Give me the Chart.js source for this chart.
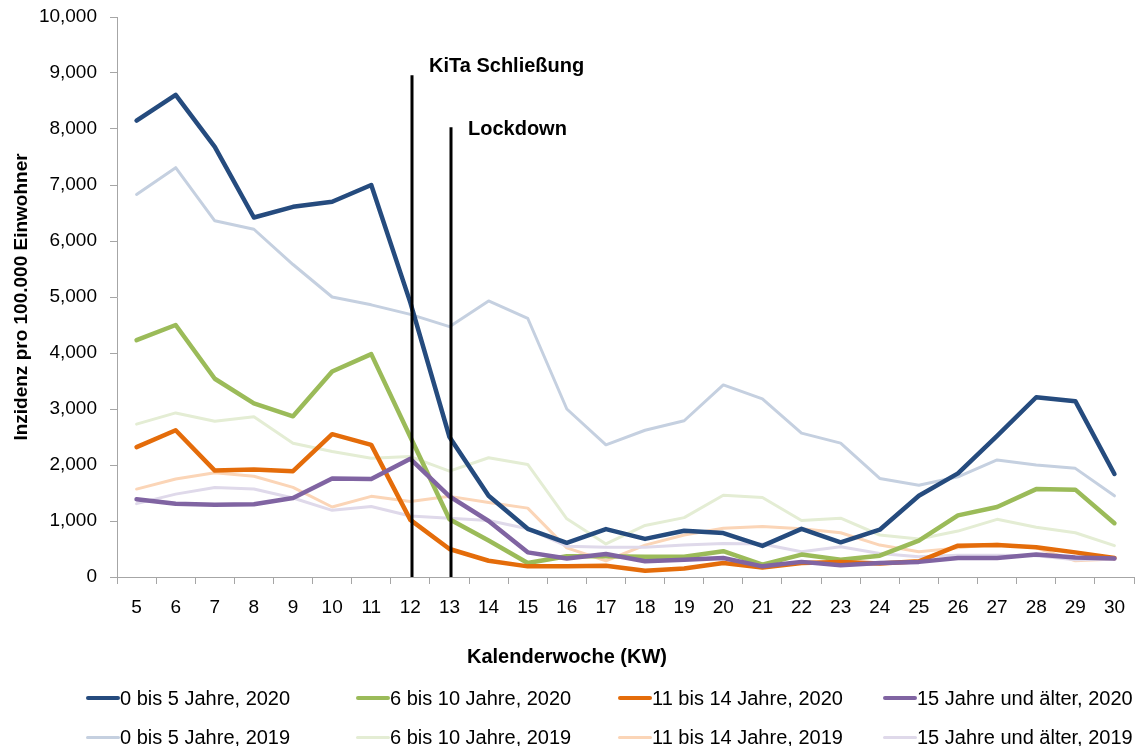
<!DOCTYPE html>
<html><head><meta charset="utf-8">
<script src="https://cdn.jsdelivr.net/npm/chart.js@4.4.1/dist/chart.umd.min.js"></script>
<style>
html,body{margin:0;padding:0;background:#fff;}
#wrap{position:relative;width:1147px;height:746px;overflow:hidden;}
#legend .item{position:absolute;display:flex;align-items:center;font-family:'Liberation Sans',Arial,sans-serif;font-size:20px;color:#000;white-space:nowrap;line-height:24px;height:24px;}
#legend .swatch{width:34px;display:inline-block;border-radius:2px;}
</style></head>
<body><div id="wrap"><canvas id="c" width="1147" height="746"></canvas><div id="legend"></div></div>
<script>
// ---- data ----
const weeks = [5,6,7,8,9,10,11,12,13,14,15,16,17,18,19,20,21,22,23,24,25,26,27,28,29,30];
const yTicks = [0,1000,2000,3000,4000,5000,6000,7000,8000,9000,10000];

const age0to5_2020   = [8150,8610,7680,6420,6610,6700,7000,4900,2500,1450,860,610,855,680,825,785,555,860,620,845,1450,1850,2520,3210,3140,1840];
const age6to10_2020  = [4230,4500,3540,3100,2870,3670,3980,2500,1030,650,250,370,370,360,360,460,220,400,310,380,650,1100,1250,1570,1560,960];
const age11to14_2020 = [2320,2620,1900,1920,1890,2550,2360,1020,500,290,190,190,200,110,150,250,170,250,270,240,280,560,570,530,440,340];
const age15plus_2020 = [1390,1310,1290,1300,1410,1760,1750,2110,1440,1000,440,330,410,280,310,340,190,270,210,250,270,340,340,400,350,330];

const age0to5_2019   = [6830,7310,6360,6210,5580,5000,4860,4690,4470,4930,4620,3000,2360,2620,2790,3430,3180,2570,2390,1760,1640,1790,2090,2000,1940,1450];
const age6to10_2019  = [2730,2930,2780,2860,2390,2240,2120,2150,1890,2130,2010,1040,590,920,1060,1460,1420,1010,1050,750,680,820,1030,890,790,560];
const age11to14_2019 = [1570,1750,1860,1800,1600,1250,1440,1350,1440,1330,1230,520,290,570,750,870,900,860,790,570,450,520,590,520,290,320];
const age15plus_2019 = [1310,1480,1600,1570,1410,1190,1260,1090,1050,1010,860,550,530,530,570,600,590,450,540,420,360,390,390,380,310,320];

const seriesNames = ['0 bis 5 Jahre, 2020','6 bis 10 Jahre, 2020','11 bis 14 Jahre, 2020','15 Jahre und älter, 2020',
                     '0 bis 5 Jahre, 2019','6 bis 10 Jahre, 2019','11 bis 14 Jahre, 2019','15 Jahre und älter, 2019'];
const seriesData = [age0to5_2020, age6to10_2020, age11to14_2020, age15plus_2020,
                    age0to5_2019, age6to10_2019, age11to14_2019, age15plus_2019];

const eventWeeks = [12, 13];
const eventLabels = ['KiTa Schließung', 'Lockdown'];
const eventTops = [8960, 8030];
const eventLabelValues = [9110, 8000];

// ---- styles ----
const FONT = "'Liberation Sans', Arial, sans-serif";
const colors = ['#254B7E','#9BBB59','#E46C0A','#8064A2','#C5D0E0','#E4EDD4','#FBD5B7','#DFD9EA'];
const widths = [4.5,4.5,4.5,4.5,3,3,3,3];
const drawOrder = [3,2,1,0,7,6,5,4];

const datasets = seriesData.map((d,i)=>({
  label: seriesNames[i], data: d,
  borderColor: colors[i], backgroundColor: colors[i],
  borderWidth: widths[i], pointRadius: 0, tension: 0,
  borderJoinStyle: 'round', borderCapStyle: 'round',
  order: drawOrder[i], fill: false
}));

const eventPlugin = {
  id: 'events',
  afterDatasetsDraw(chart) {
    const {ctx, scales:{x, y}} = chart;
    ctx.save();
    eventWeeks.forEach((w, i) => {
      const px = Math.round(x.getPixelForValue(weeks.indexOf(w))) + 2;
      const top = y.getPixelForValue(eventTops[i]);
      const bottom = y.getPixelForValue(0);
      ctx.strokeStyle = '#000'; ctx.lineWidth = 3;
      ctx.beginPath(); ctx.moveTo(px, top); ctx.lineTo(px, bottom); ctx.stroke();
      ctx.font = 'bold 20px ' + FONT;
      ctx.textBaseline = 'middle'; ctx.textAlign = 'left'; ctx.fillStyle = '#000';
      ctx.fillText(eventLabels[i], px + 17, y.getPixelForValue(eventLabelValues[i]));
    });
    ctx.restore();
  }
};

new Chart(document.getElementById('c'), {
  type: 'line',
  data: { labels: weeks.map(String), datasets },
  options: {
    responsive: false, animation: false,
    layout: { padding: { top: 17, right: 13, bottom: 77, left: 0 } },
    plugins: {
      legend: { display: false }, tooltip: { enabled: false },
      title: { display: true, position: 'bottom', text: 'Kalenderwoche (KW)', color: '#000',
               font: { family: FONT, size: 20, weight: 'bold' }, padding: { top: 8, bottom: 0 } }
    },
    scales: {
      x: {
        offset: true,
        grid: { offset: true, drawOnChartArea: false, drawTicks: true, tickLength: 7, color: '#A6A6A6' },
        border: { display: true, color: '#A6A6A6', width: 1 },
        ticks: { color: '#000', font: { family: FONT, size: 19 }, padding: 12, maxRotation: 0, autoSkip: false },
        afterFit(s) { s.height = 60; s.paddingLeft = 0; s.paddingRight = 0; }
      },
      y: {
        min: 0, max: 10000,
        afterBuildTicks(s) { s.ticks = yTicks.map(v => ({ value: v })); },
        grid: { drawOnChartArea: false, drawTicks: true, tickLength: 7, color: '#A6A6A6' },
        border: { display: true, color: '#A6A6A6', width: 1 },
        ticks: { color: '#000', font: { family: FONT, size: 19 }, padding: 13,
                 callback: v => Number(v).toLocaleString('en-US') },
        title: { display: true, text: 'Inzidenz pro 100.000 Einwohner', color: '#000',
                 font: { family: FONT, size: 19, weight: 'bold' }, padding: { top: 10, bottom: 0 } },
        afterFit(s) { s.width = 117; s.paddingTop = 0; s.paddingBottom = 0; }
      }
    }
  },
  plugins: [eventPlugin]
});

// ---- HTML legend ----
const lineStarts = [86, 356, 618, 883];
const rowCenters = [698, 737];
const legend = document.getElementById('legend');
seriesNames.forEach((name, i) => {
  const col = i % 4, row = Math.floor(i / 4);
  const item = document.createElement('div');
  item.className = 'item';
  item.style.left = lineStarts[col] + 'px';
  item.style.top = (rowCenters[row] - 12) + 'px';
  const sw = document.createElement('span');
  sw.className = 'swatch';
  sw.style.height = (row === 0 ? 4 : 3) + 'px';
  sw.style.background = colors[i];
  const tx = document.createElement('span');
  tx.textContent = name;
  item.appendChild(sw); item.appendChild(tx);
  legend.appendChild(item);
});
</script>
</body></html>
